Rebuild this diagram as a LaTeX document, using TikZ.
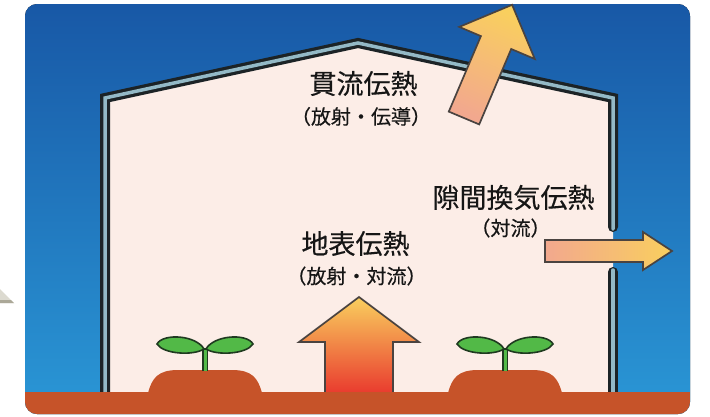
\documentclass[tikz,border=0pt]{standalone}
\usepackage{fontspec}
\newfontfamily\jpfont[FakeBold=0.4]{Noto Sans CJK JP}
\definecolor{skytop}{HTML}{1858A6}
\definecolor{skybot}{HTML}{2A97D6}
\definecolor{room}{HTML}{FCEDE7}
\definecolor{soil}{HTML}{C65329}
\definecolor{wallline}{HTML}{1C2326}
\definecolor{wallband}{HTML}{93B9C6}
\definecolor{leafgreen}{HTML}{52B947}
\definecolor{leafline}{HTML}{1F3A20}
\definecolor{inktext}{HTML}{161616}
\definecolor{arrowline}{HTML}{4A4340}
\definecolor{warmyellow}{HTML}{F9CF5E}
\definecolor{salmon}{HTML}{F2A88E}
\definecolor{hotred}{HTML}{E8302B}
\definecolor{hotorange}{HTML}{F28A3C}
\definecolor{paper}{HTML}{DCDAD0}
\definecolor{papershade}{HTML}{ABA898}
\tikzset{
  bigtext/.style={inner sep=0pt, text=inktext, font=\jpfont\fontsize{27}{27}\selectfont},
  smalltext/.style={inner sep=0pt, text=inktext, font=\jpfont\fontsize{20}{20}\selectfont},
  wallouter/.style={wallline, line width=10pt, line join=miter},
  wallinner/.style={wallband, line width=3.5pt, line join=miter},
  heatarrow/.style={draw=arrowline, line width=1.7pt, line join=miter},
  leafshape/.style={fill=leafgreen, draw=leafline, line width=1.6pt},
}
\begin{document}
\begin{tikzpicture}[x=1pt,y=-1pt]
\useasboundingbox (0,0) rectangle (710,416);
\fill[white] (0,0) rectangle (710,416);

% folded paper corner at the left edge
\fill[paper] (0,289) -- (14,303) -- (0,303) -- cycle;
\fill[papershade] (0,300) -- (11,300) -- (14,303) -- (0,303) -- cycle;

% sky panel
\fill[top color=skytop, bottom color=skybot, rounded corners=12pt] (25,4) rectangle (690,414);

% greenhouse interior
\fill[room] (105,392) -- (105,98) -- (358,43) -- (613,98) -- (613,392) -- cycle;

% walls and roof (double line), right wall opened for ventilation
\draw[wallouter, line cap=round] (613,227) -- (613,98) -- (358,43) -- (105,98) -- (105,396);
\draw[wallinner, line cap=round] (613,229) -- (613,98) -- (358,43) -- (105,98) -- (105,396);
\draw[wallouter, line cap=round] (613,272) -- (613,396);
\draw[wallinner, line cap=round] (613,270) -- (613,396);

% heat rising from the ground
\path[heatarrow, top color=warmyellow, middle color=hotorange, bottom color=hotred]
  (325,400) -- (325,342) -- (299,342) -- (359,297) -- (419,342) -- (393,342) -- (393,400) -- cycle;

% ground
\begin{scope}
  \clip[rounded corners=12pt] (25,4) rectangle (690,414);
  \fill[soil] (25,392) rectangle (690,416);
\end{scope}

% planting beds
\fill[soil] (148,393) .. controls (152,378) and (158,370) .. (178,370) -- (232,370)
  .. controls (252,370) and (258,378) .. (262,393) -- cycle;
\fill[soil] (448,393) .. controls (452,378) and (458,370) .. (478,370) -- (532,370)
  .. controls (552,370) and (558,378) .. (562,393) -- cycle;

% seedlings
\foreach \dx in {0,300} {
  \begin{scope}[xshift=\dx pt]
    \draw[leafline, line width=6pt] (205,371) -- (205,348);
    \draw[leafgreen, line width=3pt] (205,371) -- (205,350);
    \path[leafshape] (204,349) .. controls (196,335) and (163,333) .. (157,344)
      .. controls (163,354) and (193,356) .. (204,349) -- cycle;
    \path[leafshape] (206,349) .. controls (214,335) and (247,333) .. (253,344)
      .. controls (247,354) and (217,356) .. (206,349) -- cycle;
  \end{scope}
}

% heat through the roof
\path[heatarrow, top color=warmyellow, bottom color=salmon, shading angle=-23]
  (448.8,111.6) -- (480.9,36.1) -- (459.2,26.9) -- (512.1,4.8) -- (534.8,59.0)
  -- (511.2,49.0) -- (479.2,124.4) -- cycle;

% heat leaving through the gap
\path[heatarrow, left color=salmon, right color=warmyellow]
  (545,240) -- (643,240) -- (643,232) -- (672,251) -- (643,270) -- (643,262) -- (545,262) -- cycle;

% labels
\node[bigtext] (roofhead) at (363.5,83.5) {貫流伝熱};
\node[smalltext] (roofsub) at (361,116.5) {（放射・伝導）};
\node[bigtext] (gaphead) at (513.5,197.5) {隙間換気伝熱};
\node[smalltext] (gapsub) at (510.5,228) {（対流）};
\node[bigtext] (groundhead) at (355.5,243.5) {地表伝熱};
\node[smalltext] (groundsub) at (356.5,276) {（放射・対流）};
\end{tikzpicture}
\end{document}
